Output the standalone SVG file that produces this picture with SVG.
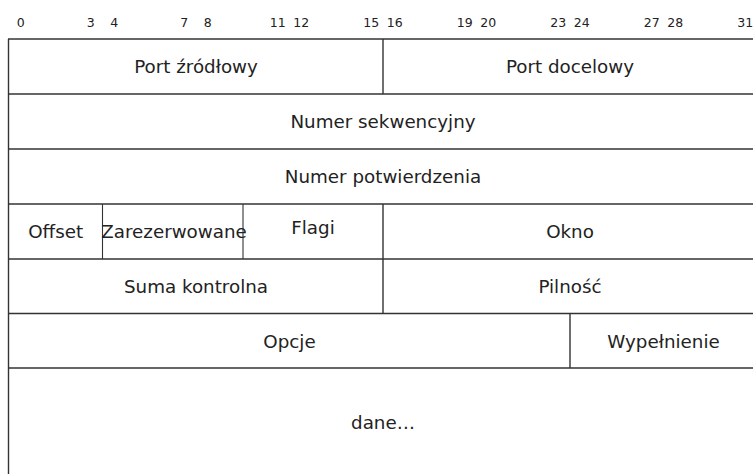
<svg xmlns="http://www.w3.org/2000/svg" width="753" height="474" viewBox="0 0 753 474">
  <style>
    .bit { font-family: "DejaVu Sans", "Liberation Sans", sans-serif; font-size: 12.5px; fill: #222; text-anchor: middle; }
    .lbl { font-family: "DejaVu Sans", "Liberation Sans", sans-serif; font-size: 18.3px; fill: #222; text-anchor: middle; }
    .grid line { stroke: #333; stroke-width: 1.4; }
    .thin { stroke-width: 1.1 !important; }
  </style>
  <rect width="753" height="474" fill="#fff"/>

  <!-- bit numbers -->
  <g id="bits">
    <text class="bit" x="20.7" y="27">0</text>
    <text class="bit" x="90.8" y="27">3</text>
    <text class="bit" x="114.2" y="27">4</text>
    <text class="bit" x="184.3" y="27">7</text>
    <text class="bit" x="207.7" y="27">8</text>
    <text class="bit" x="277.8" y="27">11</text>
    <text class="bit" x="301.2" y="27">12</text>
    <text class="bit" x="371.3" y="27">15</text>
    <text class="bit" x="394.7" y="27">16</text>
    <text class="bit" x="464.8" y="27">19</text>
    <text class="bit" x="488.2" y="27">20</text>
    <text class="bit" x="558.3" y="27">23</text>
    <text class="bit" x="581.7" y="27">24</text>
    <text class="bit" x="651.8" y="27">27</text>
    <text class="bit" x="675.2" y="27">28</text>
    <text class="bit" x="745.3" y="27">31</text>
  </g>

  <!-- grid lines -->
  <g id="connectors" class="grid">
    <line x1="8.5" y1="39" x2="8.5" y2="474"/>
    <line x1="8" y1="39" x2="753" y2="39"/>
    <line x1="8" y1="94" x2="753" y2="94"/>
    <line x1="8" y1="149" x2="753" y2="149"/>
    <line x1="8" y1="204" x2="753" y2="204"/>
    <line x1="8" y1="259" x2="753" y2="259"/>
    <line x1="8" y1="313.5" x2="753" y2="313.5"/>
    <line x1="8" y1="368" x2="753" y2="368"/>
    <line x1="383" y1="39" x2="383" y2="94"/>
    <line class="thin" x1="102.5" y1="204" x2="102.5" y2="259"/>
    <line class="thin" x1="243" y1="204" x2="243" y2="259"/>
    <line x1="383" y1="204" x2="383" y2="313.5"/>
    <line x1="570" y1="313.5" x2="570" y2="368"/>
  </g>

  <g id="port-zrodlowy"><text class="lbl" x="196" y="72.5">Port źródłowy</text></g>
  <g id="port-docelowy"><text class="lbl" x="570" y="72.5">Port docelowy</text></g>
  <g id="numer-sekwencyjny"><text class="lbl" x="383" y="127.5">Numer sekwencyjny</text></g>
  <g id="numer-potwierdzenia"><text class="lbl" x="383" y="182.5">Numer potwierdzenia</text></g>
  <g id="offset"><text class="lbl" x="55.7" y="238">Offset</text></g>
  <g id="zarezerwowane"><text class="lbl" x="174" y="238">Zarezerwowane</text></g>
  <g id="flagi"><text class="lbl" x="313" y="234">Flagi</text></g>
  <g id="okno"><text class="lbl" x="570" y="238">Okno</text></g>
  <g id="suma-kontrolna"><text class="lbl" x="196" y="292.5">Suma kontrolna</text></g>
  <g id="pilnosc"><text class="lbl" x="570" y="292.5">Pilność</text></g>
  <g id="opcje"><text class="lbl" x="289.5" y="347.5">Opcje</text></g>
  <g id="wypelnienie"><text class="lbl" x="663.5" y="347.5">Wypełnienie</text></g>
  <g id="dane"><text class="lbl" x="383" y="429">dane…</text></g>
</svg>
